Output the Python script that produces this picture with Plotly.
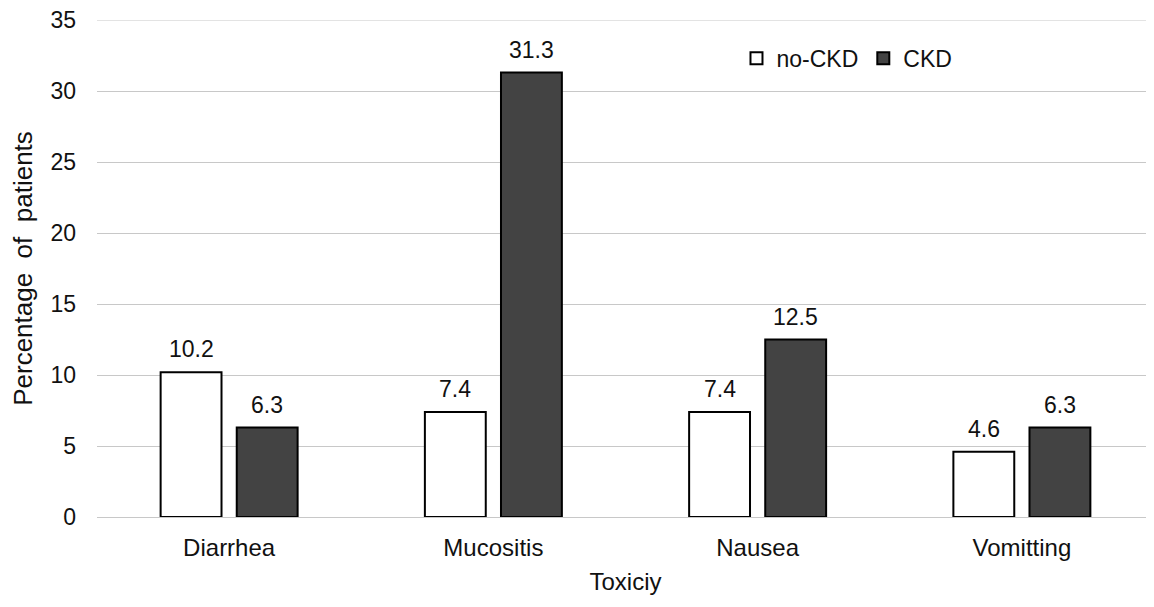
import plotly.graph_objects as go

categories = ["Diarrhea", "Mucositis", "Nausea", "Vomitting"]
no_ckd = [10.2, 7.4, 7.4, 4.6]
ckd = [6.3, 31.3, 12.5, 6.3]
y_ticks = [0, 5, 10, 15, 20, 25, 30, 35]

FS = 23
font = dict(family="Liberation Sans, Arial, sans-serif", size=FS, color="#111111")

W, H = 1146, 599
L, R, T, B = 89, 0, 12, 90
BARGAP, GROUPGAP = 0.424, 0.2
GRID = "#c8c8c8"

fig = go.Figure()
fig.add_trace(go.Bar(
    name="no-CKD", x=categories, y=no_ckd,
    marker=dict(color="white", line=dict(color="black", width=2)),
))
fig.add_trace(go.Bar(
    name="CKD", x=categories, y=ckd,
    marker=dict(color="#434343", line=dict(color="black", width=2)),
))

# value labels above bars
cat_px = (W - L - R) / len(categories)
slot = cat_px * (1 - BARGAP) / 2
for series, sign in ((no_ckd, -1), (ckd, 1)):
    for c, v in zip(categories, series):
        fig.add_annotation(
            x=c, y=v, xref="x", yref="y", text=f"{v:.1f}",
            showarrow=False, yanchor="bottom", xanchor="center",
            xshift=sign * slot / 2, yshift=8, font=font,
        )

# top gridline (at the last tick) which plotly omits at the range edge
fig.add_shape(type="line", xref="paper", yref="y", x0=0, x1=1,
              y0=y_ticks[-1], y1=y_ticks[-1], line=dict(color=GRID, width=1),
              layer="below")

fig.update_layout(
    width=W, height=H,
    margin=dict(l=L, r=R, t=T, b=B),
    plot_bgcolor="white", paper_bgcolor="white",
    font=font,
    barmode="group", bargap=BARGAP, bargroupgap=GROUPGAP,
    showlegend=True,
    legend=dict(orientation="h", x=0.605, y=0.923, xanchor="left", yanchor="middle",
                font=dict(size=FS), itemwidth=30, bgcolor="rgba(0,0,0,0)",
                traceorder="normal"),
)
fig.update_xaxes(
    title=dict(text="Toxiciy", font=dict(size=24), standoff=13),
    showline=True, linecolor=GRID, linewidth=1,
    ticks="", ticklabelstandoff=9, tickfont=dict(size=24),
)
fig.update_yaxes(
    title=dict(text="Percentage  of  patients", font=dict(size=26), standoff=14),
    range=[0, y_ticks[-1]], tickvals=y_ticks, showgrid=True, gridcolor=GRID,
    gridwidth=1, zeroline=False, ticks="", ticklabelstandoff=20,
    ticklabeloverflow="allow",
)

fig.write_html("out.html")
